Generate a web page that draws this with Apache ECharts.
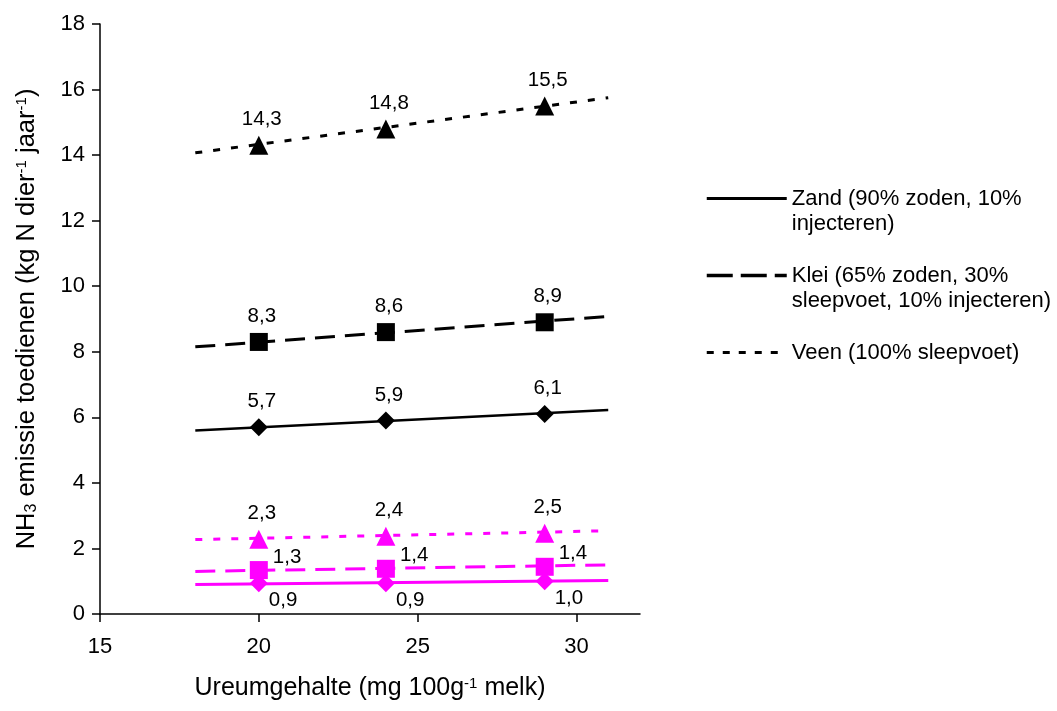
<!DOCTYPE html>
<html>
<head>
<meta charset="utf-8">
<script src="https://cdn.jsdelivr.net/npm/echarts@6/dist/echarts.min.js"></script>
<style>
html,body{margin:0;padding:0;background:#fff;}
#c{width:1057px;height:711px;}
</style>
</head>
<body>
<div id="c"></div>
<script>
// ---- data ----
var ureum = [20, 24, 29];
var zandBlack = [5.7, 5.9, 6.1];
var kleiBlack = [8.3, 8.6, 8.9];
var veenBlack = [14.3, 14.8, 15.5];
var zandPink = [0.94, 0.94, 1.0];
var kleiPink = [1.34, 1.38, 1.44];
var veenPink = [2.28, 2.37, 2.46];

// trend lines, read at their two ends
var trendX = [18, 31];
var zandBlackTrend = [5.6, 6.22];
var kleiBlackTrend = [8.15, 9.08];
var veenBlackTrend = [14.07, 15.75];
var zandPinkTrend = [0.9, 1.02];
var kleiPinkTrend = [1.3, 1.5];
var veenPinkTrend = [2.27, 2.54];

var xTicks = [15, 20, 25, 30];
var legendNames = [
  'Zand (90% zoden, 10%\ninjecteren)',
  'Klei (65% zoden, 30%\nsleepvoet, 10% injecteren)',
  'Veen (100% sleepvoet)'
];

var FONT = '"Liberation Sans", Arial, sans-serif';
var BLACK = '#000000';
var PINK = '#FF00FF';

function pairs(xs, ys) { return xs.map(function (x, i) { return [x, ys[i]]; }); }
function fmt(p) { return p.value[1].toFixed(1).replace('.', ','); }

function trend(name, ys, color, type, width) {
  return {
    name: name, type: 'line', data: pairs(trendX, ys),
    symbol: 'none', silent: true, z: 2,
    lineStyle: { color: color, width: width, type: type, cap: 'butt' },
    itemStyle: { color: color }
  };
}
function marks(name, ys, color, symbol, size, label) {
  return {
    name: name, type: 'scatter', data: pairs(ureum, ys),
    symbol: symbol, symbolSize: size, z: 5,
    itemStyle: { color: color, opacity: 1 },
    label: Object.assign({ show: true, formatter: fmt, color: BLACK, fontFamily: FONT, fontSize: 20.5 }, label)
  };
}
var above = { position: 'top', distance: 6, offset: [3, 0] };

var chart = echarts.init(document.getElementById('c'));
chart.setOption({
  animation: false,
  backgroundColor: '#fff',
  textStyle: { fontFamily: FONT, color: BLACK },
  grid: { left: 100, right: 417, top: 24, bottom: 97, outerBoundsMode: 'none', containLabel: false },
  xAxis: {
    type: 'value', min: 15, max: 32, interval: 5,
    name: 'Ureumgehalte (mg 100g{sup|-1} melk)',
    nameLocation: 'middle', nameGap: 62,
    nameTextStyle: { fontFamily: FONT, fontSize: 25, color: BLACK,
      rich: { sup: { fontFamily: FONT, fontSize: 15, verticalAlign: 'top', color: BLACK } } },
    axisLine: { lineStyle: { color: BLACK, width: 1.5 } },
    axisTick: { length: 8, lineStyle: { color: BLACK, width: 1.5 }, customValues: xTicks },
    axisLabel: { fontFamily: FONT, fontSize: 22, color: BLACK, margin: 22, customValues: xTicks },
    splitLine: { show: false }
  },
  yAxis: {
    type: 'value', min: 0, max: 18, interval: 2,
    name: 'NH{sub|3} emissie toedienen (kg N dier{sup|-1} jaar{sup|-1})',
    nameLocation: 'middle', nameGap: 60,
    nameTextStyle: { fontFamily: FONT, fontSize: 25.5, color: BLACK,
      rich: {
        sub: { fontFamily: FONT, fontSize: 16, verticalAlign: 'bottom', color: BLACK },
        sup: { fontFamily: FONT, fontSize: 15, verticalAlign: 'top', color: BLACK }
      } },
    axisLine: { show: true, lineStyle: { color: BLACK, width: 1.5 } },
    axisTick: { show: true, length: 8, lineStyle: { color: BLACK, width: 1.5 } },
    axisLabel: { fontFamily: FONT, fontSize: 22, color: BLACK, margin: 15 },
    splitLine: { show: false }
  },
  legend: {
    orient: 'vertical', left: 705, top: 161, padding: 0, itemGap: 2,
    itemWidth: 80, itemHeight: 14,
    itemStyle: { opacity: 0 },
    formatter: function (name) {
      // leading blank line keeps the key line level with the first text line
      return '\n' + name + (name.indexOf('\n') < 0 ? '\n' : '');
    },
    textStyle: { fontFamily: FONT, fontSize: 22, color: BLACK, lineHeight: 25 },
    data: [
      { name: legendNames[0], lineStyle: { width: 3 } },
      { name: legendNames[1], lineStyle: { type: [26, 8], width: 3.5 } },
      { name: legendNames[2], lineStyle: { type: [7, 9], width: 3 } }
    ],
    selectedMode: false
  },
  series: [
    trend(legendNames[0], zandBlackTrend, BLACK, 'solid', 2.5),
    trend(legendNames[1], kleiBlackTrend, BLACK, [20, 10], 3),
    trend(legendNames[2], veenBlackTrend, BLACK, [7, 11], 3),
    trend('zandPinkTrend', zandPinkTrend, PINK, 'solid', 3),
    trend('kleiPinkTrend', kleiPinkTrend, PINK, [20, 10], 3),
    trend('veenPinkTrend', veenPinkTrend, PINK, [7, 11], 3),
    marks('zandBlack', zandBlack, BLACK, 'diamond', 18, above),
    marks('kleiBlack', kleiBlack, BLACK, 'rect', 18, above),
    marks('veenBlack', veenBlack, BLACK, 'triangle', 19, above),
    marks('veenPink', veenPink, PINK, 'triangle', 19, above),
    marks('kleiPink', kleiPink, PINK, 'rect', 18, { position: 'right', distance: 5, offset: [0, -13] }),
    marks('zandPink', zandPink, PINK, 'diamond', 18, { position: 'right', distance: 1, offset: [0, 17] })
  ]
});
</script>
</body>
</html>
